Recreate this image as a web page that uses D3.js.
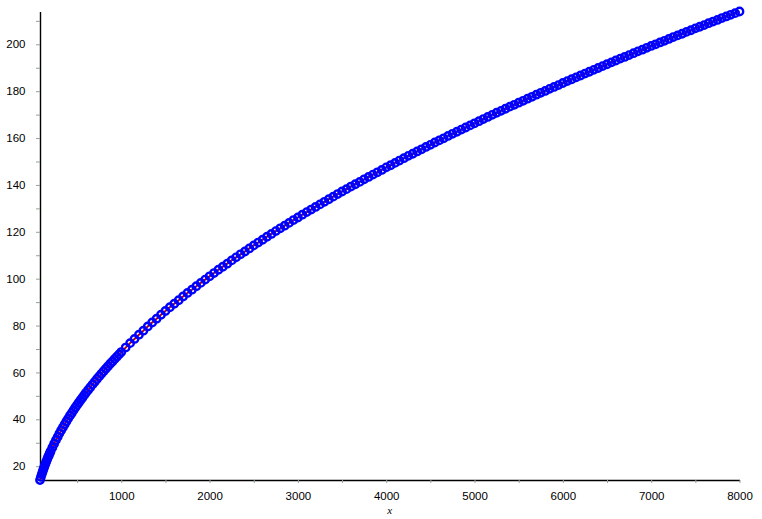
<!DOCTYPE html>
<html>
<head>
<meta charset="utf-8">
<script src="https://cdn.jsdelivr.net/npm/d3@7"></script>
<style>
body { margin: 0; background: #fff; }
svg { display: block; }
</style>
</head>
<body>
<div id="content"></div>
<script>
// points (x, y)
var xs = [80, 90, 100, 110, 120, 130, 140, 150, 160, 170, 180, 190, 200,
	220, 240, 260, 280, 300, 320, 340, 360, 380, 400, 420, 440, 460, 480, 500, 520, 540, 560, 580, 600,
	625, 650, 675, 700, 725, 750, 775, 800, 825, 850, 875, 900, 925, 950, 975, 1000,
	1050, 1100, 1150, 1200, 1250, 1300, 1350, 1400, 1450, 1500, 1550, 1600, 1650, 1700, 1750, 1800, 1850, 1900, 1950, 2000,
	2050, 2100, 2150, 2200, 2250, 2300, 2350, 2400, 2450, 2500, 2550, 2600, 2650, 2700, 2750, 2800, 2850, 2900, 2950, 3000,
	3050, 3100, 3150, 3200, 3250, 3300, 3350, 3400, 3450, 3500, 3550, 3600, 3650, 3700, 3750, 3800, 3850, 3900, 3950, 4000,
	4050, 4100, 4150, 4200, 4250, 4300, 4350, 4400, 4450, 4500, 4550, 4600, 4650, 4700, 4750, 4800, 4850, 4900, 4950, 5000,
	5050, 5100, 5150, 5200, 5250, 5300, 5350, 5400, 5450, 5500, 5550, 5600, 5650, 5700, 5750, 5800, 5850, 5900, 5950, 6000,
	6050, 6100, 6150, 6200, 6250, 6300, 6350, 6400, 6450, 6500, 6550, 6600, 6650, 6700, 6750, 6800, 6850, 6900, 6950, 7000,
	7050, 7100, 7150, 7200, 7250, 7300, 7350, 7400, 7450, 7500, 7550, 7600, 7650, 7700, 7750, 7800, 7850, 7900, 7950, 8000];

var ys = [14.1, 15.4, 16.6, 17.7, 18.8, 19.9, 20.9, 21.9, 22.8, 23.8, 24.6, 25.5, 26.4,
	28.0, 29.6, 31.1, 32.5, 34.0, 35.3, 36.6, 37.9, 39.2, 40.4, 41.6, 42.7, 43.9, 45.0, 46.1, 47.2, 48.2, 49.2, 50.3, 51.3,
	52.5, 53.7, 54.9, 56.0, 57.2, 58.3, 59.4, 60.5, 61.6, 62.6, 63.7, 64.7, 65.7, 66.7, 67.7, 68.7,
	70.6, 72.5, 74.3, 76.1, 77.8, 79.6, 81.3, 82.9, 84.6, 86.2, 87.8, 89.3, 90.8, 92.4, 93.9, 95.3, 96.8, 98.2, 99.6, 101.0,
	102.4, 103.8, 105.1, 106.4, 107.8, 109.1, 110.4, 111.6, 112.9, 114.2, 115.4, 116.6, 117.9, 119.1, 120.3, 121.5, 122.6, 123.8, 125.0, 126.1,
	127.3, 128.4, 129.5, 130.6, 131.7, 132.8, 133.9, 135.0, 136.1, 137.2, 138.2, 139.3, 140.3, 141.3, 142.4, 143.4, 144.4, 145.4, 146.4, 147.5,
	148.4, 149.4, 150.4, 151.4, 152.4, 153.3, 154.3, 155.2, 156.2, 157.1, 158.1, 159.0, 159.9, 160.9, 161.8, 162.7, 163.6, 164.5, 165.4, 166.3,
	167.2, 168.1, 169.0, 169.9, 170.8, 171.6, 172.5, 173.4, 174.2, 175.1, 175.9, 176.8, 177.6, 178.5, 179.3, 180.1, 181.0, 181.8, 182.6, 183.5,
	184.3, 185.1, 185.9, 186.7, 187.5, 188.3, 189.1, 189.9, 190.7, 191.5, 192.3, 193.1, 193.9, 194.6, 195.4, 196.2, 197.0, 197.7, 198.5, 199.3,
	200.0, 200.8, 201.5, 202.3, 203.1, 203.8, 204.5, 205.3, 206.0, 206.8, 207.5, 208.2, 209.0, 209.7, 210.4, 211.2, 211.9, 212.6, 213.3, 214.0];

var xTicks = [500, 1000, 1500, 2000, 2500, 3000, 3500, 4000, 4500, 5000, 5500, 6000, 6500, 7000, 7500, 8000];
var xLabels = [1000, 2000, 3000, 4000, 5000, 6000, 7000, 8000];
var yTicks = [20, 30, 40, 50, 60, 70, 80, 90, 100, 110, 120, 130, 140, 150, 160, 170, 180, 190, 200, 210];
var yLabels = [20, 40, 60, 80, 100, 120, 140, 160, 180, 200];

var w = 762;
var h = 519;

function drawChart()
{
	var svg = d3.select('#content').append('svg').attr('width', w).attr('height', h);

	var x = d3.scaleLinear().domain(d3.extent(xs)).range([40, 739.5]);
	var y = d3.scaleLinear().domain(d3.extent(ys)).range([480, 11.5]);

	var points = xs.map((v, i) => ({ x: v, y: ys[i] }));

	// axes
	var gx = svg.append('g').attr('transform', 'translate(0,480)')
		.call(d3.axisBottom(x).tickValues(xTicks).tickSize(3).tickSizeOuter(0)
			.tickFormat(d => xLabels.indexOf(d) != -1 ? d : ''));
	var gy = svg.append('g').attr('transform', 'translate(40,0)')
		.call(d3.axisLeft(y).tickValues(yTicks).tickSize(4).tickSizeOuter(0)
			.tickFormat(d => yLabels.indexOf(d) != -1 ? d : ''));

	[gx, gy].forEach(g => {
		g.select('.domain').attr('stroke', '#000').attr('stroke-width', 1.4);
		g.selectAll('.tick line').attr('stroke', '#8fa58f').attr('stroke-width', 1);
		g.selectAll('.tick text').attr('fill', '#000')
			.style('font-family', '"Liberation Sans", Arial, sans-serif').style('font-size', '11.5px');
	});
	gx.selectAll('.tick text').attr('y', 20).attr('dy', 0);
	gy.selectAll('.tick text').attr('x', -14.5);

	svg.append('text').attr('x', (x.range()[0] + x.range()[1]) / 2).attr('y', 514)
		.attr('text-anchor', 'middle')
		.style('font-family', '"Liberation Serif", "Times New Roman", serif')
		.style('font-style', 'italic').style('font-size', '11px')
		.text('x');

	// fitted curve underneath, data circles on top
	var line = d3.line().x(d => x(d.x)).y(d => y(d.y));
	svg.append('path').datum(points)
		.attr('d', line)
		.attr('fill', 'none')
		.attr('stroke', '#c00000')
		.attr('stroke-width', 2);

	svg.append('g').selectAll('circle').data(points).enter().append('circle')
		.attr('cx', d => x(d.x))
		.attr('cy', d => y(d.y))
		.attr('r', 3.7)
		.attr('fill', 'none')
		.attr('stroke', '#0000ff')
		.attr('stroke-width', 2.4);
}

drawChart();
</script>
</body>
</html>
